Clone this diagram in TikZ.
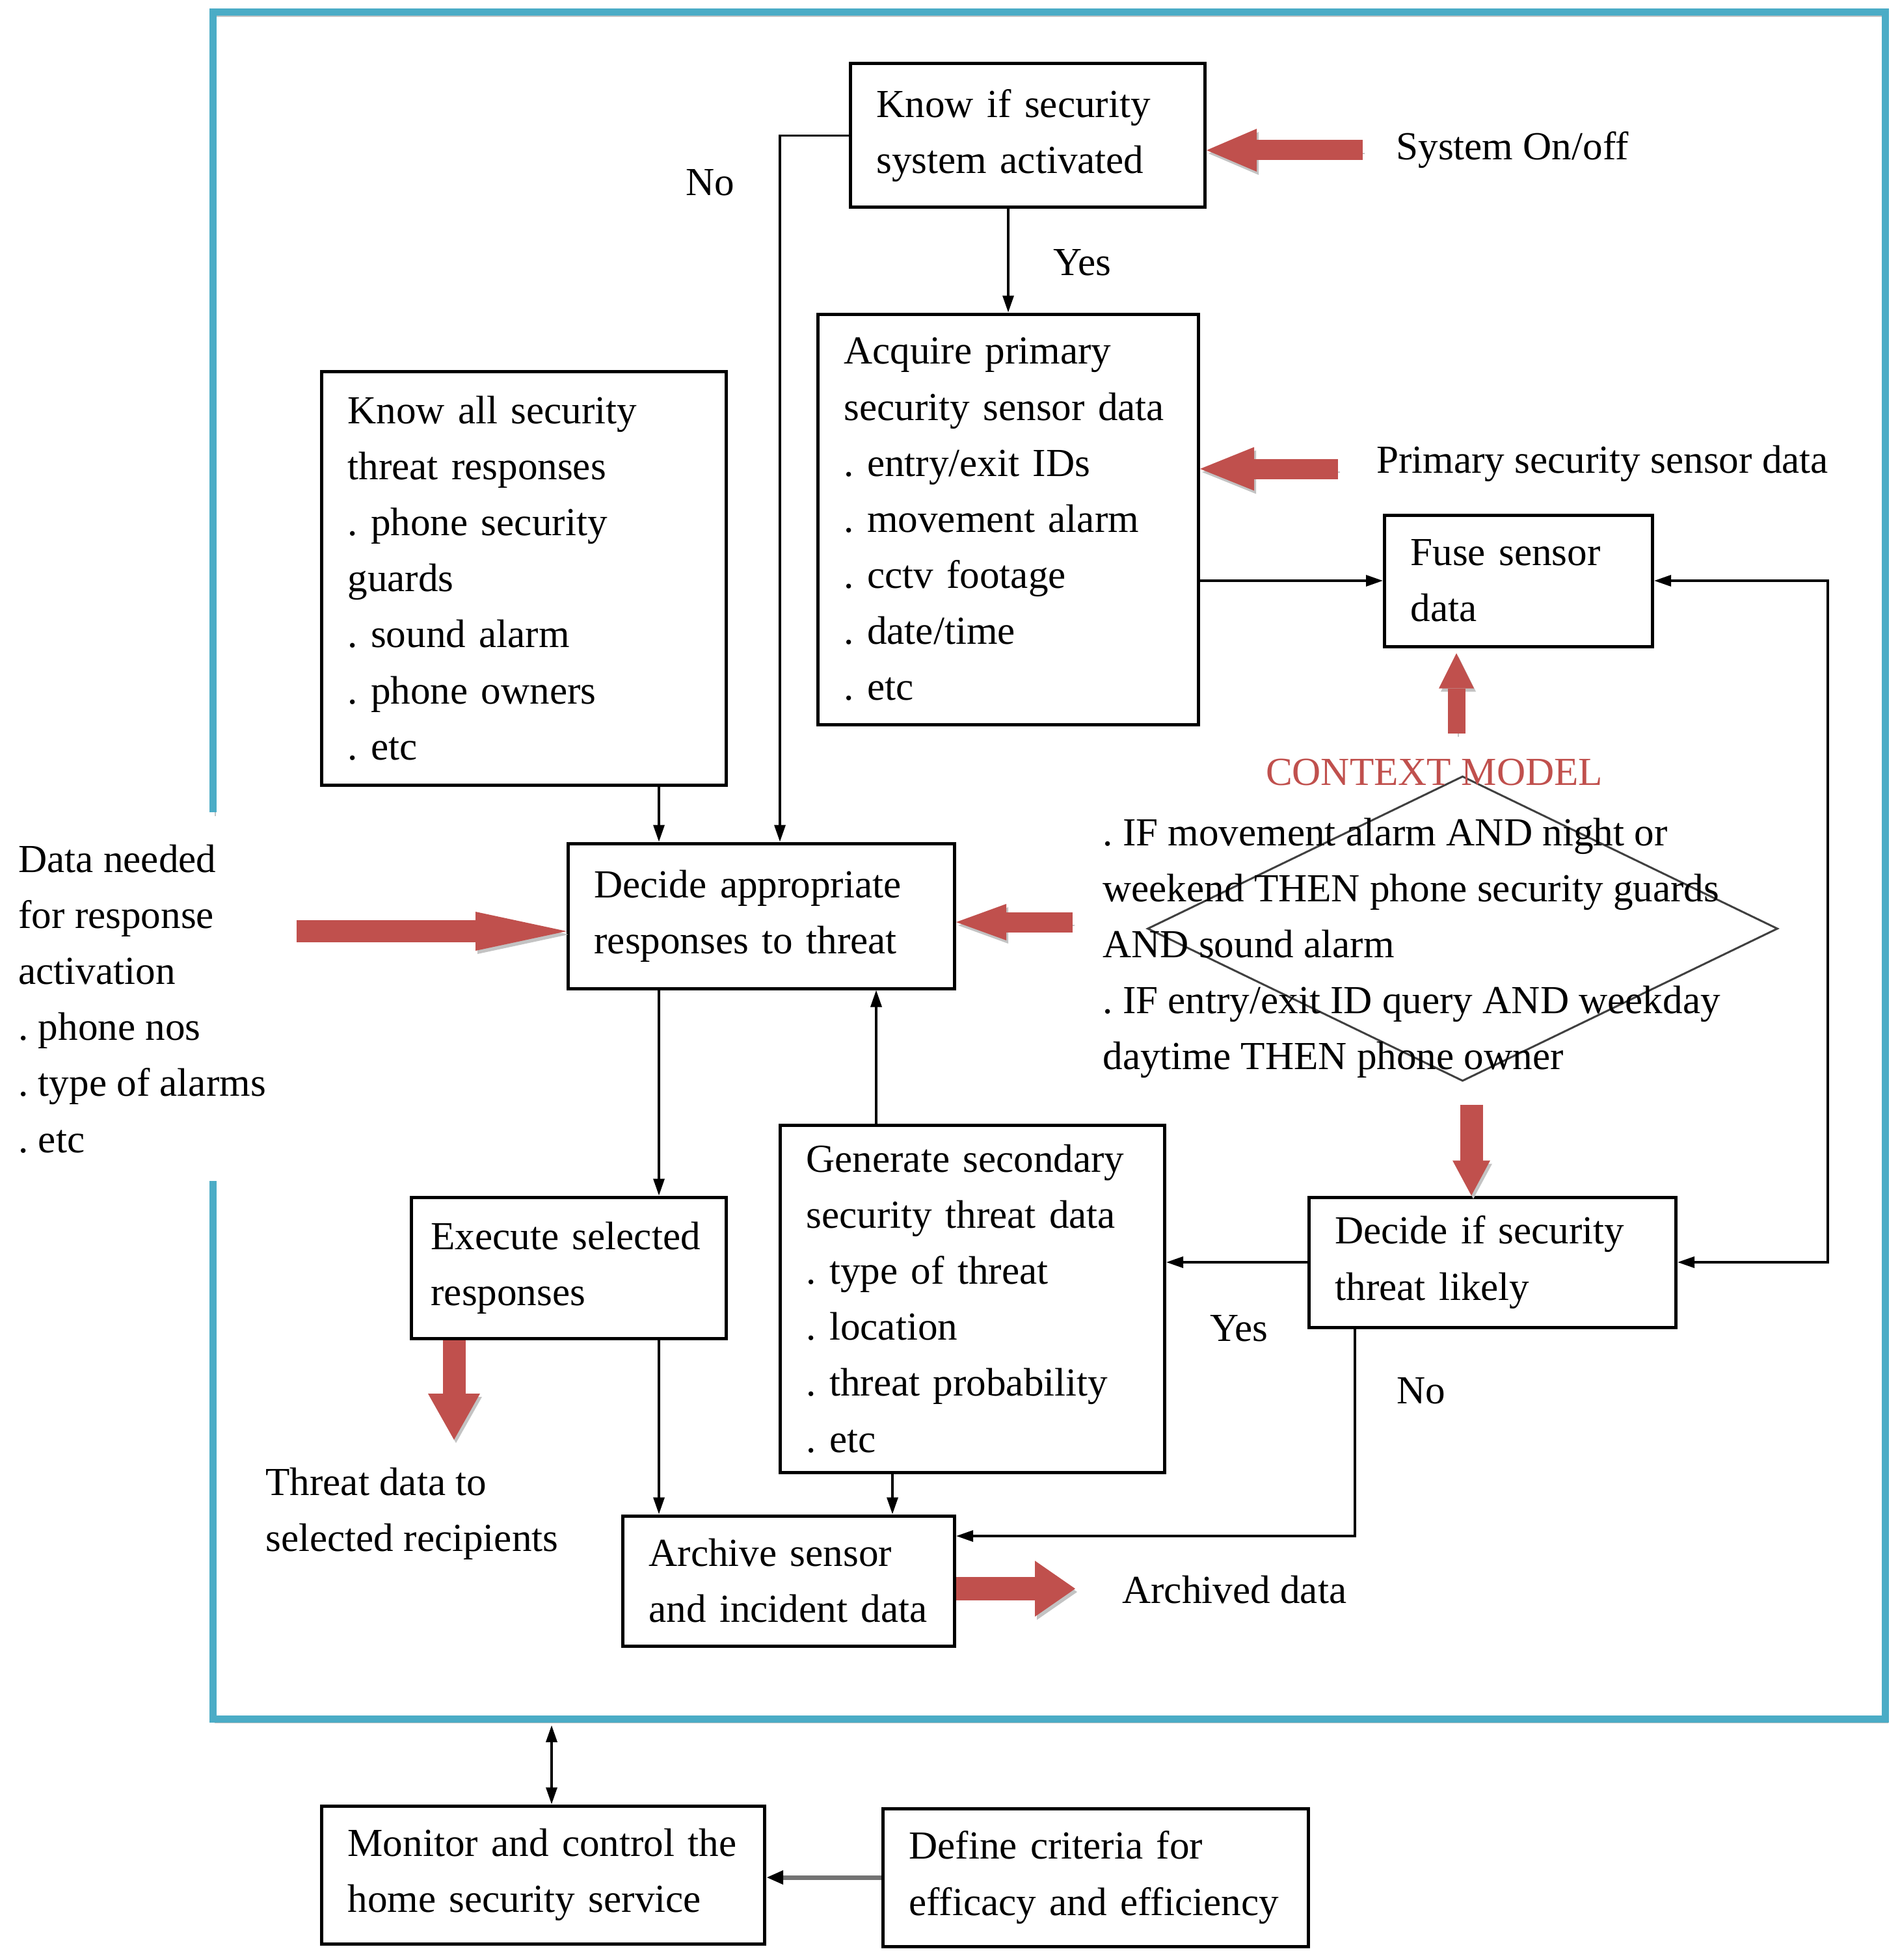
\documentclass[tikz,border=0pt]{standalone}
\usepackage{fontspec}
\setmainfont{Liberation Serif}
\usetikzlibrary{arrows.meta,shapes.geometric}
\definecolor{framebl}{RGB}{75,172,198}
\definecolor{arrowred}{RGB}{192,80,77}
\definecolor{shadowgr}{RGB}{195,195,195}
\frenchspacing

\begin{document}
\begin{tikzpicture}[font=\fontsize{17.4}{24.5}\selectfont,
  box/.style={draw, line width=0.05cm, inner xsep=0.4cm, align=left},
  conn/.style={line width=0.035cm, >={Triangle[length=0.26cm,width=0.17cm]}, ->},
  frame/.style={line width=0.11cm, draw=framebl, preaction={draw=shadowgr, transform canvas={shift={(0.04,-0.06)}}}},
  redarr/.style n args={3}{line width=#1, draw=arrowred, -{Triangle[width=#2,length=#3,line width=0pt]}, preaction={draw=shadowgr, transform canvas={shift={(0.03,-0.05)}}}}]
\useasboundingbox (0,0) rectangle (29.2,-30.14);

% outer frame, open on the left for the input data
\draw[frame] (3.27,-12.49) -- (3.27,-0.19) -- (28.98,-0.19) -- (28.98,-26.43) -- (3.27,-26.43) -- (3.27,-18.16);

% process boxes
\node[box, text width=4.65cm, minimum height=2.21cm] (know) at (15.80,-2.085) {Know if security\\system activated};
\node[box, text width=5.05cm, minimum height=6.31cm] (acquire) at (15.50,-7.985) {Acquire primary\\security sensor data\\. entry/exit IDs\\. movement alarm\\. cctv footage\\. date/time\\. etc};
\node[box, text width=5.42cm, minimum height=6.36cm] (knowall) at (8.055,-8.89) {Know all security\\threat responses\\. phone security\\guards\\. sound alarm\\. phone owners\\. etc};
\node[box, text width=3.32cm, minimum height=2.02cm] (fuse) at (23.345,-8.93) {Fuse sensor\\data};
\node[box, text width=5.14cm, minimum height=2.23cm] (decide) at (11.705,-14.085) {Decide appropriate\\responses to threat};
\node[box, text width=4.24cm, inner xsep=0.3cm, minimum height=2.17cm] (execute) at (8.745,-19.495) {Execute selected\\responses};
\node[box, text width=5.11cm, minimum height=5.34cm] (generate) at (14.95,-19.97) {Generate secondary\\security threat data\\. type of threat\\. location\\. threat probability\\. etc};
\node[box, text width=4.84cm, minimum height=2.00cm] (threat) at (22.945,-19.41) {Decide if security\\threat likely};
\node[box, text width=4.30cm, minimum height=2.00cm] (archive) at (12.125,-24.31) {Archive sensor\\and incident data};
\node[box, text width=6.01cm, minimum height=2.12cm] (monitor) at (8.35,-28.83) {Monitor and control the\\home security service};
\node[box, text width=5.74cm, minimum height=2.12cm] (define) at (16.845,-28.87) {Define criteria for\\efficacy and efficiency};

% context model
\node[diamond, draw=black!75, line width=0.03cm, minimum width=9.69cm, minimum height=4.69cm, inner sep=0pt] (ctx) at (22.485,-14.28) {};
\node[text=arrowred] (ctxlbl) at (22.05,-11.88) {CONTEXT MODEL};
\node[anchor=west, align=left] (rules) at (16.83,-14.58) {. IF movement alarm AND night or\\weekend THEN phone security guards\\AND sound alarm\\. IF entry/exit ID query AND weekday\\daytime THEN phone owner};

% outside texts
\node[anchor=west] (sysin) at (21.34,-2.31) {System On/off};
\node[anchor=west] (primin) at (21.04,-7.13) {Primary security sensor data};
\node[anchor=west, align=left] (datain) at (0.16,-15.36) {Data needed\\for response\\activation\\. phone nos\\. type of alarms\\. etc};
\node[anchor=west, align=left] (threatout) at (3.96,-23.28) {Threat data to\\selected recipients};
\node[anchor=west] (archout) at (17.13,-24.45) {Archived data};
\node (no1) at (10.92,-2.81) {No};
\node (yes1) at (16.64,-4.04) {Yes};
\node (yes2) at (19.05,-20.43) {Yes};
\node (no2) at (21.85,-21.39) {No};

% columns for the vertical connectors
\coordinate (colN) at (11.99,0);
\coordinate (colA) at (10.13,0);
\coordinate (colB) at (13.47,0);
\coordinate (colC) at (13.72,0);
\coordinate (colD) at (20.83,0);
\coordinate (rowA) at (0,-23.62);
\coordinate (frameB) at (8.48,-26.53);

\draw[conn] (know.west) -| (decide.north -| colN);
\draw[conn] (acquire.north |- know.south) -- (acquire.north);
\draw[conn] (acquire.east |- fuse.west) -- (fuse.west);
\draw[conn,<->] (fuse.east) -- ++(2.67,0) |- (threat.east);
\draw[conn] (knowall.south -| colA) -- (decide.north -| colA);
\draw[conn] (decide.south -| colA) -- (execute.north -| colA);
\draw[conn] (generate.north -| colB) -- (decide.south -| colB);
\draw[conn] (threat.west) -- (threat.west -| generate.east);
\draw[conn] (execute.south -| colA) -- (archive.north -| colA);
\draw[conn] (generate.south -| colC) -- (archive.north -| colC);
\draw[conn] (threat.south -| colD) |- (archive.east |- rowA);
\draw[conn,<->] (frameB) -- (monitor.north -| frameB);
\draw[conn, line width=0.07cm, draw=black!55, -{Triangle[length=0.26cm,width=0.2cm,color=black]}] (define.west) -- (define.west -| monitor.east);

% red block arrows
\coordinate (sysT) at (20.95,-2.31);
\coordinate (primT) at (20.57,-7.21);
\coordinate (ctxT) at (22.39,-11.28);
\coordinate (ruleT) at (16.49,-14.18);
\coordinate (dataT) at (4.56,-14.32);
\coordinate (ctxB) at (22.62,-16.99);
\coordinate (execB) at (6.98,-22.14);
\coordinate (archT) at (16.53,-24.43);
\draw[redarr={0.31cm}{0.66cm}{0.77cm}] (sysT) -- (sysT -| know.east);
\draw[redarr={0.31cm}{0.67cm}{0.83cm}] (primT) -- (primT -| acquire.east);
\draw[redarr={0.27cm}{0.54cm}{0.54cm}, shorten >=0.08cm] (ctxT) -- (ctxT |- fuse.south);
\draw[redarr={0.31cm}{0.56cm}{0.77cm}] (ruleT) -- (ruleT -| decide.east);
\draw[redarr={0.34cm}{0.6cm}{1.4cm}] (dataT) -- (dataT -| decide.west);
\draw[redarr={0.35cm}{0.58cm}{0.54cm}] (ctxB) -- (ctxB |- threat.north);
\draw[redarr={0.35cm}{0.8cm}{0.71cm}] (execB |- execute.south) -- (execB);
\draw[redarr={0.36cm}{0.86cm}{0.62cm}] (archT -| archive.east) -- (archT);

\end{tikzpicture}
\end{document}
